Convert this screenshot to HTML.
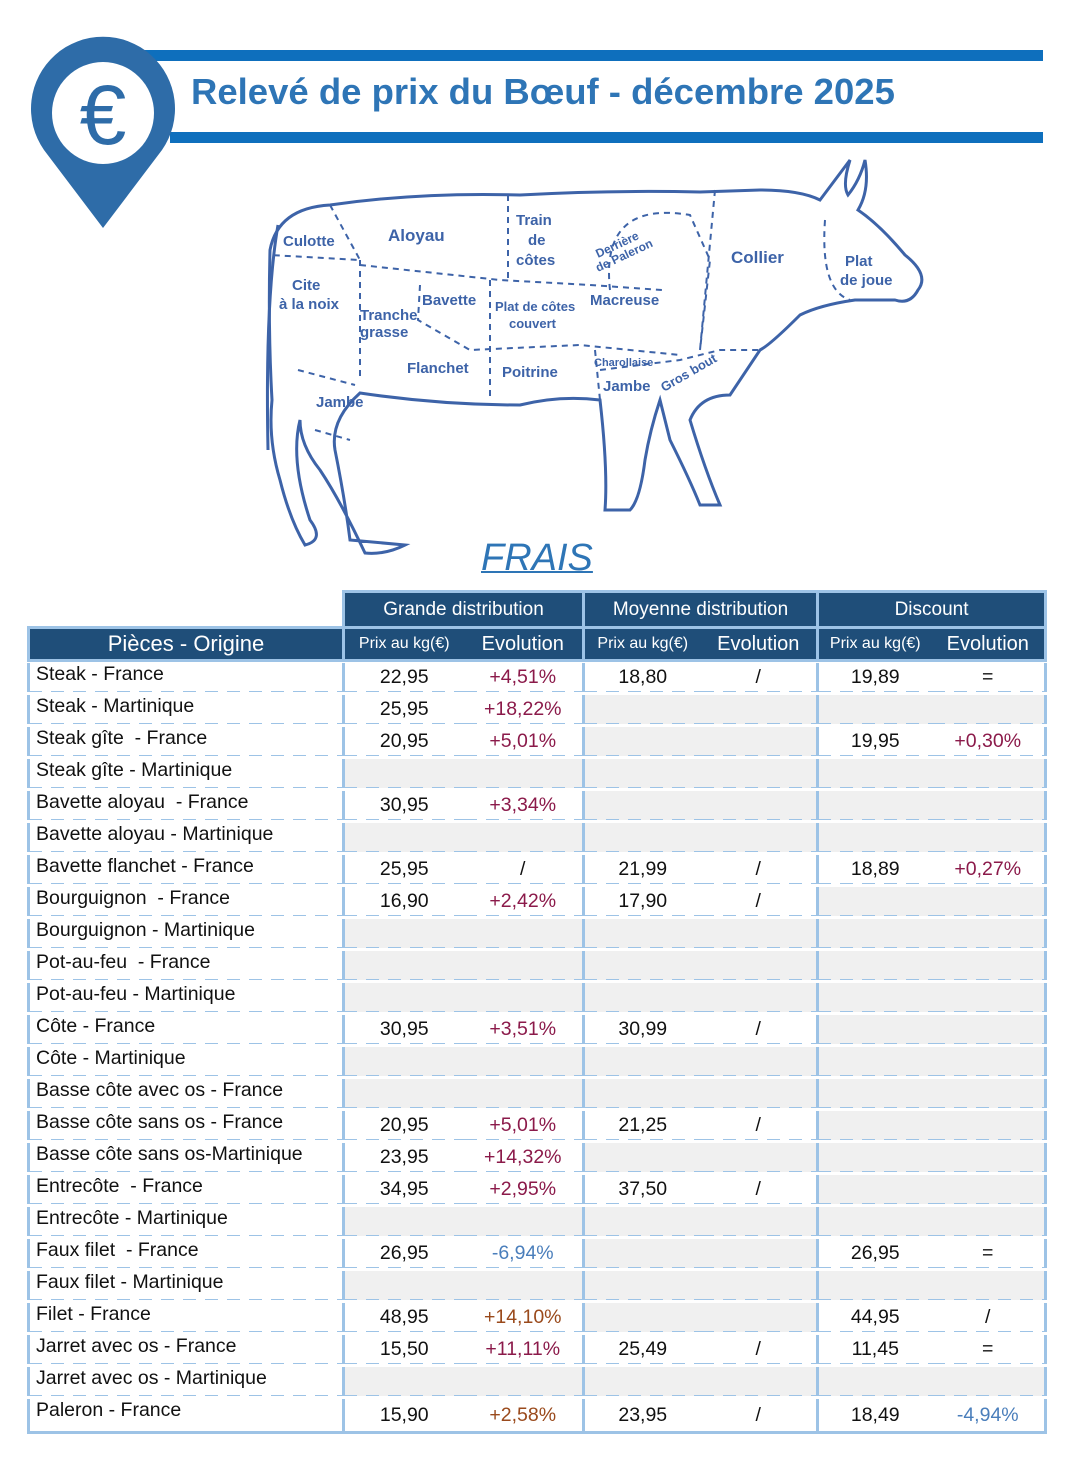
<!DOCTYPE html>
<html><head><meta charset="utf-8"><style>
body{margin:0;width:1082px;height:1477px;background:#fff;position:relative;font-family:"Liberation Sans",sans-serif;overflow:hidden}
.abs{position:absolute}
table{border-collapse:collapse;table-layout:fixed}
.t{position:absolute;left:27px;top:590px;font-family:"Liberation Sans",sans-serif}
.t td{height:29px;padding:0;font-size:19.5px;color:#111;white-space:nowrap;overflow:hidden}
.t .hd td{background:#1f4e79;color:#fff;text-align:center}
.r td{border-bottom:3px solid transparent;background-image:linear-gradient(90deg,#9dc3e6 60%,transparent 60%);background-size:22px 3px;background-repeat:repeat-x;background-position:0 100%;background-origin:border-box}
.r td.g{background-color:#f0f0f0}
.c{text-align:center}
.lab{padding-left:6px!important;vertical-align:top}
.vl{border-left:3px solid #9dc3e6}
.t td.red{color:#8b1a4a}.t td.br{color:#9a4a1c}.t td.bl{color:#4a7ebb}
</style></head><body>
<div class="abs" style="left:130px;top:50px;width:913px;height:11px;background:#0e6fbd"></div>
<div class="abs" style="left:170px;top:132px;width:873px;height:11px;background:#0e6fbd"></div>
<svg class="abs" style="left:0;top:0" width="260" height="240">
<path d="M103 228 L44 150 A72 72 0 1 1 162 150 Z" fill="#2e6ca8"/>
<circle cx="103" cy="113" r="51" fill="#fff"/>
<text x="103" y="144" font-size="84" fill="#2e6ca8" text-anchor="middle" font-family="Liberation Sans">€</text>
</svg>
<div class="abs" style="left:191px;top:71px;font-size:36.5px;font-weight:bold;color:#2e75b6">Relevé de prix du Bœuf - décembre 2025</div>
<svg class="abs" style="left:0;top:0" width="1082" height="590" font-family="Liberation Sans" fill="none" stroke="#3d63a8" stroke-width="3">
<path d="M270 250 Q278 208 330 205 Q420 192 520 195 Q610 190 700 192 L760 190 Q800 190 820 200 Q835 180 850 160 Q842 185 848 195 Q860 180 865 160 Q870 190 858 210 Q880 225 905 255 Q930 275 918 290 Q910 305 895 300 Q870 300 855 300 Q820 305 800 315 Q770 345 760 350 L730 395 Q700 395 690 420 Q705 470 720 505 L700 505 Q690 480 670 440 L660 400 Q650 430 645 460 Q640 500 630 510 L605 510 Q608 470 600 400 Q560 395 520 405 Q440 405 360 393 Q330 420 335 450 Q345 500 350 540 L405 545 Q385 555 365 553 Q340 500 320 470 Q300 445 300 420 Q290 460 310 520 Q325 540 305 545 Q290 520 280 480 Q268 440 272 400 Q268 330 270 250 Z"/>
<path d="M278 225 Q265 300 268 450" />
<g stroke-dasharray="6 5" stroke-width="2">
<path d="M330 205 L360 260 L270 255"/><path d="M360 260 L360 380"/><path d="M360 265 L500 280 L590 285 L662 290"/>
<path d="M508 195 L508 280"/><path d="M420 285 L418 320 L470 350 L580 345 L680 355"/><path d="M490 280 L490 400"/>
<path d="M595 350 L600 400"/><path d="M610 290 Q600 200 690 215 L710 260 L700 350"/><path d="M715 190 L700 350"/>
<path d="M825 220 Q820 290 850 300"/><path d="M600 370 L680 360 L720 350 L760 350"/><path d="M298 370 L355 385"/><path d="M315 430 L350 440"/>
</g>
<g fill="#3d63a8" stroke="none" font-size="15" font-weight="bold">
<text x="283" y="246">Culotte</text><text x="388" y="241" font-size="17">Aloyau</text>
<text x="516" y="225">Train</text><text x="528" y="245">de</text><text x="516" y="265">côtes</text>
<text x="292" y="290">Cite</text><text x="279" y="309">à la noix</text><text x="360" y="320">Tranche</text><text x="360" y="337">grasse</text>
<text x="422" y="305">Bavette</text><text x="495" y="311" font-size="13">Plat de côtes</text><text x="509" y="328" font-size="13">couvert</text>
<text x="590" y="305">Macreuse</text><text x="731" y="263" font-size="17">Collier</text><text x="845" y="266">Plat</text><text x="840" y="285">de joue</text>
<text x="407" y="373">Flanchet</text><text x="502" y="377">Poitrine</text><text x="316" y="407">Jambe</text><text x="603" y="391">Jambe</text>
<text x="594" y="366" font-size="11">Charollaise</text><text x="664" y="392" font-size="13" transform="rotate(-30 664 392)">Gros bout</text>
<text x="598" y="258" font-size="12" transform="rotate(-25 598 258)">Derrière</text><text x="598" y="272" font-size="12" transform="rotate(-25 598 272)">de Paleron</text>
</g>
</svg>
<div class="abs" style="left:481px;top:537px;font-size:38px;font-style:italic;color:#2e75b6;text-decoration:underline;text-decoration-thickness:2px">FRAIS</div>
<table class="t" style="width:1017px">
<colgroup><col style="width:315px"><col style="width:120px"><col style="width:120px"><col style="width:117px"><col style="width:117px"><col style="width:114px"><col style="width:114px"></colgroup>
<tr class="hd"><td style="background:#fff"></td><td colspan="2" style="border:3px solid #9dc3e6;height:33px;font-size:19px">Grande distribution</td><td colspan="2" style="border:3px solid #9dc3e6;font-size:19px">Moyenne distribution</td><td colspan="2" style="border:3px solid #9dc3e6;font-size:19px">Discount</td></tr>
<tr class="hd" style="border:3px solid #9dc3e6"><td style="font-size:22px;height:30px;border-right:3px solid #9dc3e6">Pièces - Origine</td><td style="font-size:16px">Prix au kg(€)</td><td style="font-size:20px;border-right:3px solid #9dc3e6">Evolution</td><td style="font-size:16px">Prix au kg(€)</td><td style="font-size:20px;border-right:3px solid #9dc3e6">Evolution</td><td style="font-size:16px">Prix au kg(€)</td><td style="font-size:20px">Evolution</td></tr>
</table>
<table class="t" style="width:1017px;top:663px;border-left:3px solid #9dc3e6;border-right:3px solid #9dc3e6;border-bottom:3px solid #9dc3e6">
<colgroup><col style="width:315px"><col style="width:120px"><col style="width:120px"><col style="width:117px"><col style="width:117px"><col style="width:114px"><col style="width:114px"></colgroup>
<tr class="r"><td class="lab">Steak - France</td><td class="c vl">22,95</td><td class="c red">+4,51%</td><td class="c vl">18,80</td><td class="c">/</td><td class="c vl">19,89</td><td class="c">=</td></tr>
<tr class="r"><td class="lab">Steak - Martinique</td><td class="c vl">25,95</td><td class="c red">+18,22%</td><td class="g vl"></td><td class="g"></td><td class="g vl"></td><td class="g"></td></tr>
<tr class="r"><td class="lab">Steak gîte&nbsp; - France</td><td class="c vl">20,95</td><td class="c red">+5,01%</td><td class="g vl"></td><td class="g"></td><td class="c vl">19,95</td><td class="c red">+0,30%</td></tr>
<tr class="r"><td class="lab">Steak gîte - Martinique</td><td class="g vl"></td><td class="g"></td><td class="g vl"></td><td class="g"></td><td class="g vl"></td><td class="g"></td></tr>
<tr class="r"><td class="lab">Bavette aloyau&nbsp; - France</td><td class="c vl">30,95</td><td class="c red">+3,34%</td><td class="g vl"></td><td class="g"></td><td class="g vl"></td><td class="g"></td></tr>
<tr class="r"><td class="lab">Bavette aloyau - Martinique</td><td class="g vl"></td><td class="g"></td><td class="g vl"></td><td class="g"></td><td class="g vl"></td><td class="g"></td></tr>
<tr class="r"><td class="lab">Bavette flanchet - France</td><td class="c vl">25,95</td><td class="c">/</td><td class="c vl">21,99</td><td class="c">/</td><td class="c vl">18,89</td><td class="c red">+0,27%</td></tr>
<tr class="r"><td class="lab">Bourguignon&nbsp; - France</td><td class="c vl">16,90</td><td class="c red">+2,42%</td><td class="c vl">17,90</td><td class="c">/</td><td class="g vl"></td><td class="g"></td></tr>
<tr class="r"><td class="lab">Bourguignon - Martinique</td><td class="g vl"></td><td class="g"></td><td class="g vl"></td><td class="g"></td><td class="g vl"></td><td class="g"></td></tr>
<tr class="r"><td class="lab">Pot-au-feu&nbsp; - France</td><td class="g vl"></td><td class="g"></td><td class="g vl"></td><td class="g"></td><td class="g vl"></td><td class="g"></td></tr>
<tr class="r"><td class="lab">Pot-au-feu - Martinique</td><td class="g vl"></td><td class="g"></td><td class="g vl"></td><td class="g"></td><td class="g vl"></td><td class="g"></td></tr>
<tr class="r"><td class="lab">Côte - France</td><td class="c vl">30,95</td><td class="c red">+3,51%</td><td class="c vl">30,99</td><td class="c">/</td><td class="g vl"></td><td class="g"></td></tr>
<tr class="r"><td class="lab">Côte - Martinique</td><td class="g vl"></td><td class="g"></td><td class="g vl"></td><td class="g"></td><td class="g vl"></td><td class="g"></td></tr>
<tr class="r"><td class="lab">Basse côte avec os - France</td><td class="g vl"></td><td class="g"></td><td class="g vl"></td><td class="g"></td><td class="g vl"></td><td class="g"></td></tr>
<tr class="r"><td class="lab">Basse côte sans os - France</td><td class="c vl">20,95</td><td class="c red">+5,01%</td><td class="c vl">21,25</td><td class="c">/</td><td class="g vl"></td><td class="g"></td></tr>
<tr class="r"><td class="lab">Basse côte sans os-Martinique</td><td class="c vl">23,95</td><td class="c red">+14,32%</td><td class="g vl"></td><td class="g"></td><td class="g vl"></td><td class="g"></td></tr>
<tr class="r"><td class="lab">Entrecôte&nbsp; - France</td><td class="c vl">34,95</td><td class="c red">+2,95%</td><td class="c vl">37,50</td><td class="c">/</td><td class="g vl"></td><td class="g"></td></tr>
<tr class="r"><td class="lab">Entrecôte - Martinique</td><td class="g vl"></td><td class="g"></td><td class="g vl"></td><td class="g"></td><td class="g vl"></td><td class="g"></td></tr>
<tr class="r"><td class="lab">Faux filet&nbsp; - France</td><td class="c vl">26,95</td><td class="c bl">-6,94%</td><td class="g vl"></td><td class="g"></td><td class="c vl">26,95</td><td class="c">=</td></tr>
<tr class="r"><td class="lab">Faux filet - Martinique</td><td class="g vl"></td><td class="g"></td><td class="g vl"></td><td class="g"></td><td class="g vl"></td><td class="g"></td></tr>
<tr class="r"><td class="lab">Filet - France</td><td class="c vl">48,95</td><td class="c br">+14,10%</td><td class="g vl"></td><td class="g"></td><td class="c vl">44,95</td><td class="c">/</td></tr>
<tr class="r"><td class="lab">Jarret avec os - France</td><td class="c vl">15,50</td><td class="c red">+11,11%</td><td class="c vl">25,49</td><td class="c">/</td><td class="c vl">11,45</td><td class="c">=</td></tr>
<tr class="r"><td class="lab">Jarret avec os - Martinique</td><td class="g vl"></td><td class="g"></td><td class="g vl"></td><td class="g"></td><td class="g vl"></td><td class="g"></td></tr>
<tr><td class="lab" style="height:32px">Paleron - France</td><td class="c vl">15,90</td><td class="c br">+2,58%</td><td class="c vl">23,95</td><td class="c">/</td><td class="c vl">18,49</td><td class="c bl">-4,94%</td></tr>
</table>
</body></html>
